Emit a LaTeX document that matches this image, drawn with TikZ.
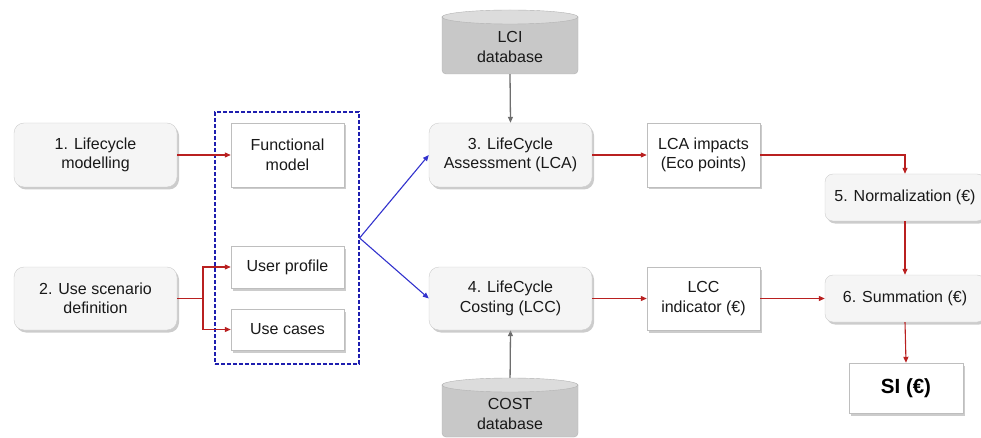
\documentclass[tikz,border=0pt]{standalone}
\usepackage{fontspec}
\setmainfont{Liberation Sans}
\usetikzlibrary{arrows.meta,shadows,backgrounds}

\definecolor{linkred}{RGB}{185,32,32}
\definecolor{linkblue}{RGB}{50,50,205}
\definecolor{grpblue}{RGB}{30,30,175}
\definecolor{linkgray}{RGB}{110,110,110}
\definecolor{stepfill}{RGB}{245,245,245}
\definecolor{stepedge}{RGB}{205,205,205}
\definecolor{boxedge}{RGB}{190,190,190}
\definecolor{dbbody}{RGB}{200,200,200}
\definecolor{dbtop}{RGB}{220,220,220}
\definecolor{dbedge}{RGB}{178,178,178}
\definecolor{txt}{RGB}{25,25,25}

\begin{document}
\begin{tikzpicture}[x=1pt,y=-1pt,
  font=\fontsize{16}{19.5}\selectfont, text=txt,
  softshadow/.style={drop shadow={shadow xshift=2pt, shadow yshift=-2.5pt, fill=black!40, opacity=0.5}},
  stepbox/.style={rectangle, rounded corners=10pt, draw=stepedge, fill=stepfill,
    align=center, inner sep=0pt, softshadow},
  smallstep/.style={stepbox, rounded corners=8pt},
  outbox/.style={rectangle, draw=boxedge, fill=white, align=center, inner sep=0pt, softshadow},
  dbtext/.style={align=center, inner sep=0pt, minimum width=136pt},
  redlink/.style={draw=linkred, line width=1.1pt, -{Triangle[length=6pt,width=5pt]}},
  bluelink/.style={draw=linkblue, line width=1.1pt, -{Triangle[length=6pt,width=5pt]}},
  graylink/.style={draw=linkgray, line width=1.3pt, -{Triangle[length=6pt,width=5pt]}},
  group/.style={draw=grpblue, line width=1.2pt, dash pattern=on 4pt off 2pt, inner sep=0pt}]

\useasboundingbox (0,0) rectangle (981,438);

% database cylinders
\path[fill=dbbody, draw=dbedge, rounded corners=4pt] (442,17) -- (442,74) -- (578,74) -- (578,17);
\path[fill=dbtop, draw=dbedge] (510,17) ellipse [x radius=68pt, y radius=7pt];
\path[fill=dbbody, draw=dbedge, rounded corners=4pt] (442,385) -- (442,437) -- (578,437) -- (578,385);
\path[fill=dbtop, draw=dbedge] (510,385) ellipse [x radius=68pt, y radius=7pt];

\node[dbtext, minimum height=54pt] (lci) at (510,47) {LCI\\database};
\node[dbtext, minimum height=58pt] (cost) at (510,414) {COST\\database};

% input steps
\node[stepbox, minimum width=163pt, minimum height=64pt] (n1) at (95.5,155) {1. Lifecycle\\modelling};
\node[stepbox, minimum width=163pt, minimum height=63pt] (n2) at (95.5,298.5) {2. Use scenario\\definition};

% grouped models
\node[group, minimum width=144pt, minimum height=252pt] (grp) at (287,238) {};
\node[outbox, minimum width=113pt, minimum height=64pt] (fm) at (287.5,155) {Functional\\model};
\node[outbox, minimum width=113pt, minimum height=42pt] (up) at (287.5,267) {User profile};
\node[outbox, minimum width=113pt, minimum height=41pt] (uc) at (287.5,329.5) {Use cases};

% assessment steps
\node[stepbox, minimum width=163pt, minimum height=64pt] (n3) at (510.5,155) {3. LifeCycle\\Assessment (LCA)};
\node[stepbox, minimum width=163pt, minimum height=63pt] (n4) at (510.5,298.5) {4. LifeCycle\\Costing (LCC)};
\node[outbox, minimum width=113pt, minimum height=64pt] (lca) at (703.5,155) {LCA impacts\\(Eco points)};
\node[outbox, minimum width=113pt, minimum height=63pt] (lcc) at (703.5,298.5) {LCC\\indicator (€)};

% aggregation
\node[smallstep, minimum width=160pt, minimum height=47pt] (n5) at (905,197.5) {5. Normalization (€)};
\node[smallstep, minimum width=160pt, minimum height=47pt] (n6) at (905,298.5) {6. Summation (€)};
\node[outbox, minimum width=114pt, minimum height=50pt, font=\fontsize{20.5}{24}\selectfont\bfseries, text=black] (si) at (906,388) {SI (€)};

% connectors
\draw[redlink] (n1.east) -- (fm.west);
\coordinate (split) at (203,298.5);
\draw[redlink] (n2.east) -- (split) |- (up.west);
\draw[redlink] (split) |- (uc.west);
\draw[bluelink] (grp.east) -- (n3.west);
\draw[bluelink] (grp.east) -- (n4.west);
\draw[graylink] (lci.south) -- (n3.north);
\begin{pgfonlayer}{background}
  \draw[graylink] (cost.north) -- (n4.south);
\end{pgfonlayer}
\draw[redlink] (n3.east) -- (lca.west);
\draw[redlink] (n4.east) -- (lcc.west);
\draw[redlink] (lca.east) -| (n5.north);
\draw[redlink] (n5.south) -- (n6.north);
\draw[redlink] (lcc.east) -- (n6.west);
\draw[redlink] (n6.south) -- (si.north);

\end{tikzpicture}
\end{document}
